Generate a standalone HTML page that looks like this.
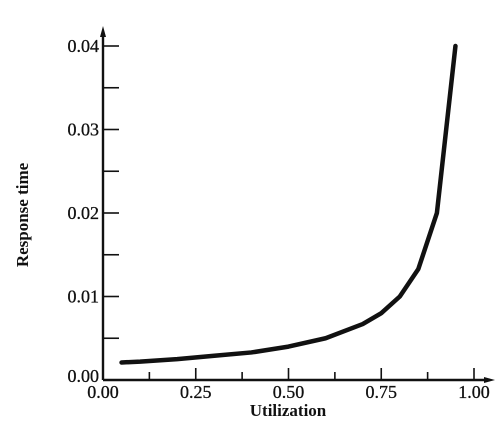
<!DOCTYPE html>
<html><head><meta charset="utf-8"><style>
body{margin:0;background:#fff}
svg{display:block}
text{font-family:"Liberation Serif",serif;fill:#111}
</style></head><body>
<svg id="chart" width="500" height="431" viewBox="0 0 500 431">
<g id="axes"></g>
<g id="plot"></g>
</svg>
<script>
const xTicks=[0,0.25,0.5,0.75,1.0];
const xTickLabels=["0.00","0.25","0.50","0.75","1.00"];
const yTicks=[0,0.01,0.02,0.03,0.04];
const yTickLabels=["0.00","0.01","0.02","0.03","0.04"];
const utilization=[0.05,0.1,0.2,0.3,0.4,0.5,0.6,0.7,0.75,0.8,0.85,0.9,0.95];
const responseTime=[0.0021,0.0022,0.0025,0.0029,0.0033,0.004,0.005,0.0067,0.008,0.010,0.0133,0.020,0.040];
const NS="http://www.w3.org/2000/svg";
const X0=103,X1=474,Y0=380,Y1=46;
const sx=v=>X0+(X1-X0)*v;
const sy=v=>Y0-(Y0-Y1)*v/0.04;
const axes=document.getElementById('axes'),plot=document.getElementById('plot');
function mk(tag,attrs,parent,txt){const e=document.createElementNS(NS,tag);for(const k in attrs)e.setAttribute(k,attrs[k]);if(txt!=null)e.textContent=txt;parent.appendChild(e);return e;}
let e;
e=mk('line',{x1:X0,y1:Y0,x2:490,y2:Y0,stroke:'#111','stroke-width':2.4},axes);


e=mk('polygon',{points:`495,${Y0} 484,${Y0-3} 484,${Y0+3}`,fill:'#111'},axes);


e=mk('line',{x1:X0,y1:Y0,x2:X0,y2:32,stroke:'#111','stroke-width':2.4},axes);


e=mk('polygon',{points:`${X0},26 ${X0-3},37 ${X0+3},37`,fill:'#111'},axes);


for(let i=1;i<=8;i++){const v=i*0.125;const h=(i%2==0)?12:8;
 e=mk('line',{x1:sx(v),y1:Y0,x2:sx(v),y2:Y0-h,stroke:'#111','stroke-width':1.6},axes);
 
 }
for(let i=1;i<=8;i++){const v=i*0.005;
 e=mk('line',{x1:X0,y1:sy(v),x2:X0+16,y2:sy(v),stroke:'#111','stroke-width':1.6},axes);
 
 }
xTicks.forEach((v,i)=>{e=mk('text',{x:sx(v),y:398,'text-anchor':'middle','font-size':18,'stroke':'#111','stroke-width':0.3},axes,xTickLabels[i]);
 
 });
yTicks.forEach((v,i)=>{e=mk('text',{x:X0-4,y:sy(v)+(v===0?2:6),'text-anchor':'end','font-size':18,'stroke':'#111','stroke-width':0.3},axes,yTickLabels[i]);
 
 });
e=mk('text',{x:288,y:416,'text-anchor':'middle','font-size':17,'font-weight':'bold'},axes,'Utilization');


e=mk('text',{x:0,y:0,'text-anchor':'middle','font-size':17,'font-weight':'bold',transform:'translate(28,215) rotate(-90)'},axes,'Response time');


const pts=utilization.map((u,i)=>sx(u)+','+sy(responseTime[i])).join(' ');
e=mk('polyline',{points:pts,fill:'none',stroke:'#111','stroke-width':4.5,'stroke-linejoin':'round','stroke-linecap':'round'},plot);


</script>
</body></html>
